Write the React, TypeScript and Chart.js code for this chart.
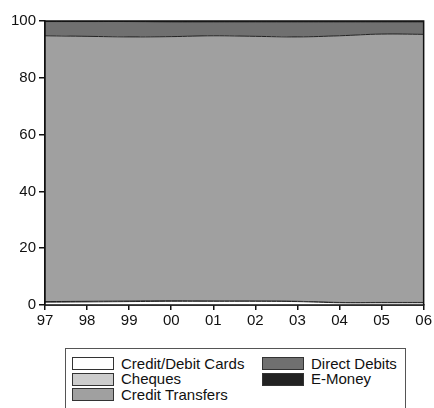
import React, { useEffect, useRef } from "react";
import { Chart, registerables } from "chart.js";

Chart.register(...registerables);

const years = ["97", "98", "99", "00", "01", "02", "03", "04", "05", "06"];
const cards = [1.0, 1.1, 1.2, 1.3, 1.3, 1.3, 1.2, 0.8, 0.8, 0.8];
const cheques = [0.2, 0.2, 0.2, 0.2, 0.1, 0.1, 0.1, 0.1, 0.1, 0.1];
const creditTransfers = [93.6, 93.3, 93.0, 93.0, 93.4, 93.2, 93.1, 93.9, 94.5, 94.4];
const directDebits = [5.0, 5.2, 5.4, 5.2, 4.9, 5.1, 5.3, 4.9, 4.3, 4.4];
const eMoney = [0.2, 0.2, 0.2, 0.3, 0.3, 0.3, 0.3, 0.3, 0.3, 0.3];

const seriesNames = ["Credit/Debit Cards", "Cheques", "Credit Transfers", "Direct Debits", "E-Money"];
const seriesColors = ["#ffffff", "#cccccc", "#a0a0a0", "#707070", "#222222"];
const seriesData = [cards, cheques, creditTransfers, directDebits, eMoney];

const FONT = "'Liberation Sans', Arial, Helvetica, sans-serif";

const framePlugin = {
  id: "frame",
  afterDatasetsDraw(chart: any) {
    const { ctx, chartArea } = chart;
    ctx.save();
    ctx.strokeStyle = "#111";
    ctx.lineWidth = 1.5;
    ctx.strokeRect(chartArea.left, chartArea.top, chartArea.right - chartArea.left, chartArea.bottom - chartArea.top);
    ctx.restore();
  },
};

export default function App() {
  const ref = useRef<HTMLCanvasElement>(null);
  useEffect(() => {
    const chart = new Chart(ref.current!, {
      type: "line",
      data: {
        labels: years,
        datasets: seriesData.map((d, i) => ({
          label: seriesNames[i],
          data: d,
          backgroundColor: seriesColors[i],
          borderColor: "#222",
          borderWidth: 1,
          pointRadius: 0,
          tension: 0.4,
          fill: i === 0 ? "origin" : "-1",
        })),
      },
      plugins: [framePlugin],
      options: {
        animation: false,
        responsive: false,
        maintainAspectRatio: false,
        layout: { padding: { left: 0, right: 8, top: 21, bottom: 0 } },
        plugins: { legend: { display: false }, tooltip: { enabled: false } },
        scales: {
          x: {
            offset: false,
            grid: { display: true, drawOnChartArea: false, drawTicks: true, tickLength: 5, color: "#111", lineWidth: 1.5 },
            border: { display: true, color: "#111", width: 1.5 },
            ticks: { color: "#111", font: { family: FONT, size: 15 }, padding: 2, maxRotation: 0, autoSkip: false },
            afterFit: (s: any) => { s.height = 25; },
          },
          y: {
            stacked: true,
            min: 0,
            max: 100,
            grid: { display: true, drawOnChartArea: false, drawTicks: true, tickLength: 6, color: "#111", lineWidth: 1.5 },
            border: { display: true, color: "#111", width: 1.5 },
            ticks: { stepSize: 20, color: "#111", font: { family: FONT, size: 15 }, padding: 3 },
            afterFit: (s: any) => { s.width = 45; },
          },
        },
      },
    });
    return () => chart.destroy();
  }, []);

  const cell = (i: number) => (
    <div key={i} style={{ display: "flex", alignItems: "center", height: 15.5 }}>
      <div style={{ width: 40, height: 11, background: seriesColors[i], border: "1px solid #333", marginRight: 7 }} />
      <span>{seriesNames[i]}</span>
    </div>
  );

  return (
    <div style={{ position: "absolute", left: 0, top: 0, width: 434, height: 408, overflow: "hidden", background: "#fff" }}>
      <canvas ref={ref} width={434} height={330} style={{ position: "absolute", left: 0, top: 0 }} />
      <div
        style={{
          position: "absolute",
          left: 65,
          top: 348,
          width: 341,
          height: 70,
          border: "1px solid #555",
          fontFamily: FONT,
          fontSize: 15,
          color: "#111",
          lineHeight: "16px",
          boxSizing: "border-box",
          padding: "7px 0 0 6px",
          display: "flex",
        }}
      >
        <div style={{ width: 190 }}>{[0, 1, 2].map(cell)}</div>
        <div>{[3, 4].map(cell)}</div>
      </div>
    </div>
  );
}
